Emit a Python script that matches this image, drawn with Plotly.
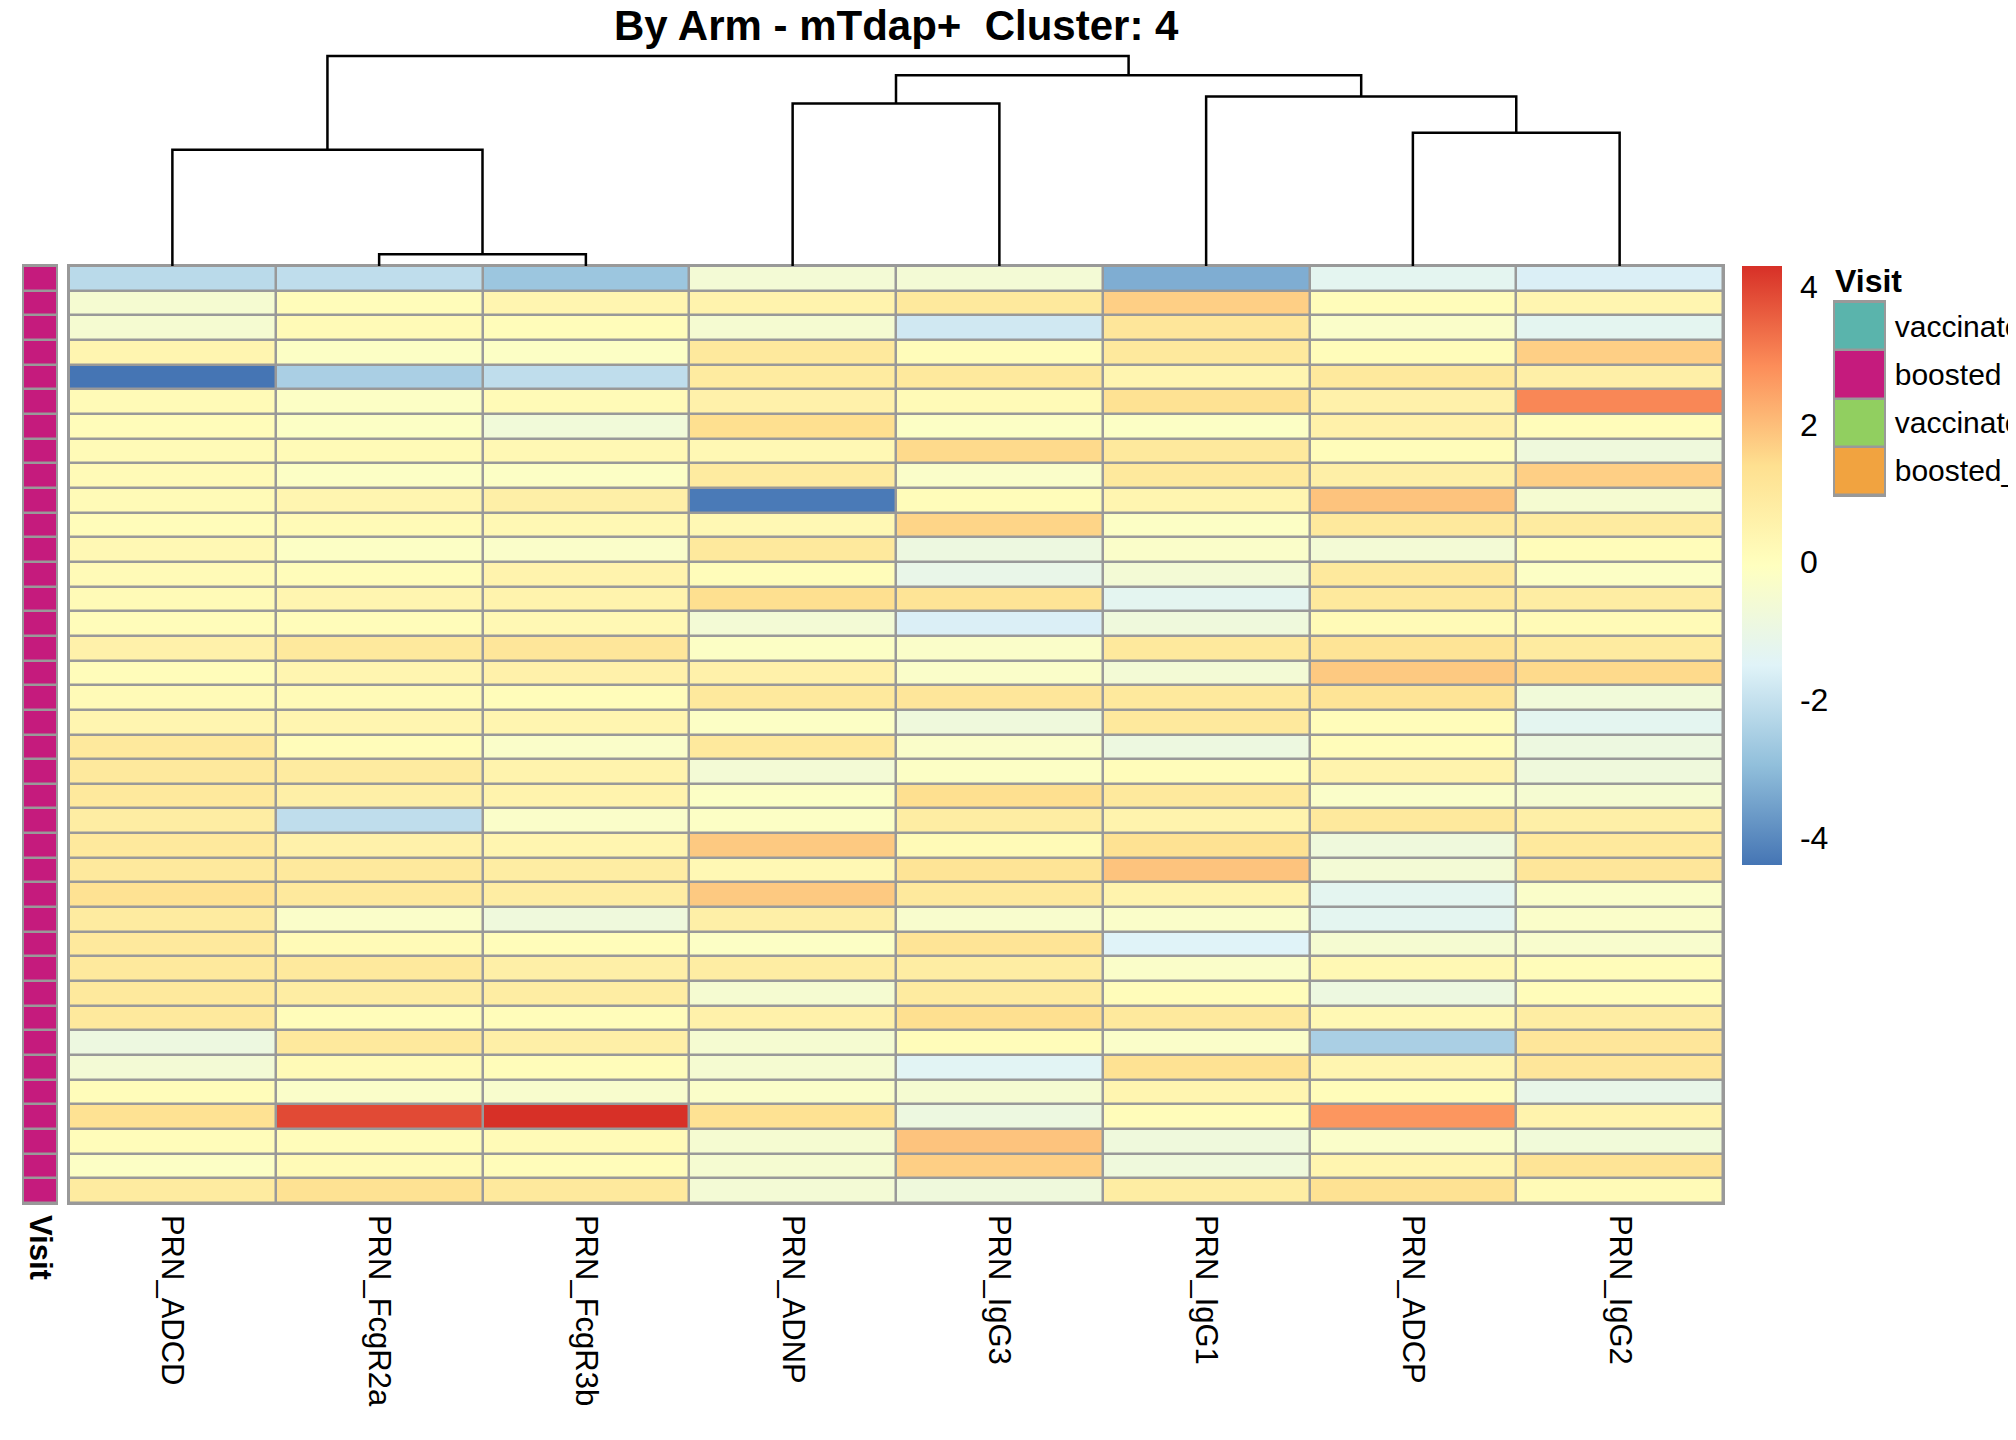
import plotly.graph_objects as go

# figure size in pixels
W, H = 2016, 1440
PAGE = 8  # default body margin of the html page
FONT = "Liberation Sans, Arial, sans-serif"
GRID = "#999999"

# feature columns in dendrogram order
features = ["PRN_ADCD", "PRN_FcgR2a", "PRN_FcgR3b", "PRN_ADNP",
            "PRN_IgG3", "PRN_IgG1", "PRN_ADCP", "PRN_IgG2"]

# scaled values per feature, top row first (38 samples)
prn_adcd = [-2.2, -0.5, -0.5, 0.4, -4.4, 0.2, 0.1, 0.2, 0.2, 0.2,
            0.1, 0.3, 0.2, 0.2, 0.1, 0.6, 0.1, 0.2, 0.4, 1.0,
            1.0, 1.0, 0.8, 1.0, 1.0, 1.3, 0.9, 1.0, 1.0, 1.0,
            1.0, -0.9, -0.6, 0.1, 1.3, 0.1, -0.2, 0.9]
prn_fcgr2a = [-2.1, 0.1, 0.2, -0.2, -2.5, -0.2, -0.2, 0.2, -0.2, 0.4,
              0.2, -0.2, 0.1, 0.4, 0.1, 1.0, 0.4, 0.2, 0.4, 0.1,
              0.9, 0.7, -2.1, 0.6, 1.0, 1.0, -0.3, 0.2, 1.0, 0.8,
              0.1, 1.0, 0.2, -0.3, 3.9, 0.1, 0.2, 1.3]
prn_fcgr3b = [-2.75, 0.4, 0.1, -0.2, -2.1, 0.2, -0.7, 0.3, -0.2, 0.7,
              0.3, -0.3, 0.5, 0.5, 0.3, 1.1, 0.6, 0.1, 0.4, -0.3,
              0.5, 0.5, -0.3, 0.4, 0.8, 0.8, -0.8, 0.1, 0.7, 0.8,
              0.1, 0.7, 0.1, -0.4, 4.3, 0.2, 0.1, 1.0]
prn_adnp = [-0.6, 0.5, -0.5, 1.0, 0.9, 0.6, 1.4, 0.3, 0.9, -4.3,
            0.3, 1.0, 0.1, 1.4, -0.6, -0.2, 0.6, 1.0, -0.2, 1.0,
            -0.6, -0.2, -0.2, 1.8, 0.3, 1.8, 0.7, -0.2, 0.8, -0.5,
            0.6, -0.5, -0.5, -0.3, 1.3, -0.5, -0.5, -0.6]
prn_igg3 = [-0.6, 1.0, -1.8, 0.1, 1.0, 0.2, -0.2, 1.5, -0.3, 0.1,
            1.6, -0.9, -1.1, 1.2, -1.6, -0.3, -0.3, 1.1, -0.8, -0.3,
            -0.2, 1.4, 0.8, 0.2, 1.2, 1.0, -0.4, 1.2, 0.8, 0.9,
            1.4, 0.1, -1.4, -0.5, -0.9, 1.9, 1.7, -0.8]
prn_igg1 = [-3.3, 1.7, 1.1, 1.0, 0.4, 1.3, -0.2, 1.0, 1.0, 0.4,
            -0.2, -0.3, -0.6, -1.3, -0.8, 1.0, -0.6, 1.0, 1.0, -0.9,
            0.1, 1.0, 0.5, 1.3, 1.9, 0.5, -0.3, -1.5, -0.3, 0.1,
            1.0, -0.3, 1.3, 0.4, 0.1, -0.8, -0.8, 0.8]
prn_adcp = [-1.3, 0.1, -0.3, 0.1, 1.0, 0.6, 0.6, 0.1, 0.7, 1.9,
            1.0, -0.6, 1.0, 1.0, 0.2, 1.2, 1.8, 1.2, 0.1, 0.1,
            0.5, -0.3, 1.0, -0.8, -0.6, -1.3, -1.3, -0.5, 0.3, -0.9,
            0.3, -2.5, 0.4, 0.1, 2.7, -0.3, 0.4, 1.3]
prn_igg2 = [-1.6, 0.4, -1.3, 1.7, 0.7, 2.95, 0.1, -0.8, 1.7, -0.5,
            0.9, 0.1, -0.2, 0.8, 0.2, 0.9, 1.5, -0.7, -1.3, -0.9,
            -0.8, -0.5, 0.7, 1.0, 1.1, -0.3, -0.3, -0.4, 0.1, 0.1,
            0.8, 1.1, 1.1, -1.1, 0.5, -0.7, 1.2, 0.2]

# every sample in this cluster is a "boosted" visit
visit = ["boosted"] * 38
visit_levels = ["vaccinated", "boosted", "vaccinated_2", "boosted_2"]
visit_colors = ["#5AB4AC", "#C51B7D", "#91CF60", "#F1A340"]

# column dendrogram merges: (left node, right node, height); leaves 0..7, merges 8..
col_merges = [(1, 2, 0.056), (0, 8, 0.554), (6, 7, 0.635), (3, 4, 0.774),
              (5, 10, 0.807), (11, 12, 0.908), (9, 13, 1.0)]

# colour bar ticks
cbar_ticks = [-4, -2, 0, 2, 4]
cbar_labels = ["-4", "-2", "0", "2", "4"]

# rev(RdYlBu, 7) like pheatmap
heat_colors = ["#4575B4", "#91BFDB", "#E0F3F8", "#FFFFBF", "#FEE090", "#FC8D59", "#D73027"]


def fx(px):
    return (px - PAGE) / W


def fy(px):
    return 1 - (px - PAGE) / H


columns = [prn_adcd, prn_fcgr2a, prn_fcgr3b, prn_adnp, prn_igg3, prn_igg1, prn_adcp, prn_igg2]
z = [list(r) for r in zip(*columns)]
n_rows = len(z)
n_cols = len(features)
zmin = min(min(c) for c in columns)
zmax = max(max(c) for c in columns)

heat_scale = [[i / (len(heat_colors) - 1), c] for i, c in enumerate(heat_colors)]
visit_scale = []
for i, c in enumerate(visit_colors):
    visit_scale += [[i / len(visit_colors), c], [(i + 1) / len(visit_colors), c]]

# dendrogram segments
node_x = list(range(n_cols))
node_h = [0.0] * n_cols
dx, dy = [], []
for a, b, h in col_merges:
    dx += [node_x[a], node_x[a], node_x[b], node_x[b], None]
    dy += [node_h[a], h, h, node_h[b], None]
    node_x.append((node_x[a] + node_x[b]) / 2)
    node_h.append(h)

fig = go.Figure()

fig.add_trace(go.Heatmap(
    z=z, x=list(range(n_cols)), y=list(range(n_rows)),
    colorscale=heat_scale, zmin=zmin, zmax=zmax,
    xgap=2.5, ygap=2.5, hoverinfo="skip",
    colorbar=dict(
        x=fx(1742), xanchor="left", y=fy(266), yanchor="top",
        len=599, lenmode="pixels", thickness=40, thicknessmode="pixels",
        xpad=0, ypad=0, outlinewidth=0,
        tickvals=cbar_ticks, ticktext=cbar_labels,
        ticks="outside", ticklen=12, tickcolor="rgba(0,0,0,0)",
        tickfont=dict(family=FONT, size=32, color="black"),
    ),
))

fig.add_trace(go.Heatmap(
    z=[[visit_levels.index(v)] for v in visit], x=[0], y=list(range(n_rows)),
    colorscale=visit_scale, zmin=0, zmax=len(visit_levels) - 1,
    ygap=2.5, showscale=False, hoverinfo="skip",
    xaxis="x2", yaxis="y2",
))

fig.add_trace(go.Scatter(
    x=dx, y=dy, mode="lines", line=dict(color="black", width=2.5),
    hoverinfo="skip", showlegend=False, xaxis="x3", yaxis="y3",
))

fig.add_trace(go.Heatmap(
    z=[[i] for i in range(len(visit_levels))], x=[0], y=list(range(len(visit_levels))),
    colorscale=visit_scale, zmin=0, zmax=len(visit_levels) - 1,
    ygap=2.5, showscale=False, hoverinfo="skip",
    xaxis="x4", yaxis="y4",
))

frame = dict(showline=True, mirror=True, linecolor=GRID, linewidth=1.5,
             showgrid=False, zeroline=False, automargin=False)

# root of dendrogram sits at pixel 56, leaves at pixel 266
dend_top = 50
dend_range = (266 - dend_top) / (266 - 56)

fig.update_layout(
    width=W, height=H,
    margin=dict(l=0, r=0, t=0, b=0, autoexpand=False),
    paper_bgcolor="white", plot_bgcolor="white",
    showlegend=False,
    font=dict(family=FONT, color="black"),
    xaxis=dict(domain=[fx(69), fx(1723)], range=[-0.5, n_cols - 0.5], anchor="y",
               tickvals=list(range(n_cols)), ticktext=features, tickangle=90,
               ticks="outside", ticklen=4, tickcolor="rgba(0,0,0,0)",
               tickfont=dict(family=FONT, size=31, color="black"), **frame),
    yaxis=dict(domain=[fy(1203), fy(266)], range=[n_rows - 0.5, -0.5], anchor="x",
               showticklabels=False, ticks="", **frame),
    xaxis2=dict(domain=[fx(24), fx(56)], range=[-0.5, 0.5], anchor="y2",
                tickvals=[0], ticktext=["Visit"], tickangle=90,
                ticks="outside", ticklen=4, tickcolor="rgba(0,0,0,0)",
                tickfont=dict(family=FONT, size=31, color="black", weight="bold"), **frame),
    yaxis2=dict(domain=[fy(1203), fy(266)], range=[n_rows - 0.5, -0.5], anchor="x2",
                showticklabels=False, ticks="", **frame),
    xaxis3=dict(domain=[fx(69), fx(1723)], range=[-0.5, n_cols - 0.5], anchor="y3",
                visible=False, automargin=False),
    yaxis3=dict(domain=[fy(266), fy(dend_top)], range=[0, dend_range], anchor="x3",
                visible=False, automargin=False),
    xaxis4=dict(domain=[fx(1835), fx(1884)], range=[-0.5, 0.5], anchor="y4",
                showticklabels=False, ticks="", **frame),
    yaxis4=dict(domain=[fy(495), fy(302)], range=[len(visit_levels) - 0.5, -0.5], anchor="x4",
                side="right", tickvals=list(range(len(visit_levels))), ticktext=visit_levels,
                ticks="outside", ticklen=3, tickcolor="rgba(0,0,0,0)",
                tickfont=dict(family=FONT, size=30, color="black"), **frame),
    shapes=[
        dict(type="rect", xref="x", yref="y", x0=-0.5, x1=n_cols - 0.5, y0=-0.5, y1=n_rows - 0.5,
             fillcolor=GRID, line=dict(width=0), layer="below"),
        dict(type="rect", xref="x2", yref="y2", x0=-0.5, x1=0.5, y0=-0.5, y1=n_rows - 0.5,
             fillcolor=GRID, line=dict(width=0), layer="below"),
        dict(type="rect", xref="x4", yref="y4", x0=-0.5, x1=0.5, y0=-0.5, y1=len(visit_levels) - 0.5,
             fillcolor=GRID, line=dict(width=0), layer="below"),
    ],
    annotations=[
        dict(text="By Arm - mTdap+ &nbsp;Cluster: 4", xref="paper", yref="paper",
             x=fx(896), y=fy(26), xanchor="center", yanchor="middle", showarrow=False,
             font=dict(family=FONT, size=42, color="black", weight="bold")),
        dict(text="Visit", xref="paper", yref="paper",
             x=fx(1833), y=fy(281), xanchor="left", yanchor="middle", showarrow=False,
             font=dict(family=FONT, size=32, color="black", weight="bold")),
    ],
)

fig.write_html("out.html")
